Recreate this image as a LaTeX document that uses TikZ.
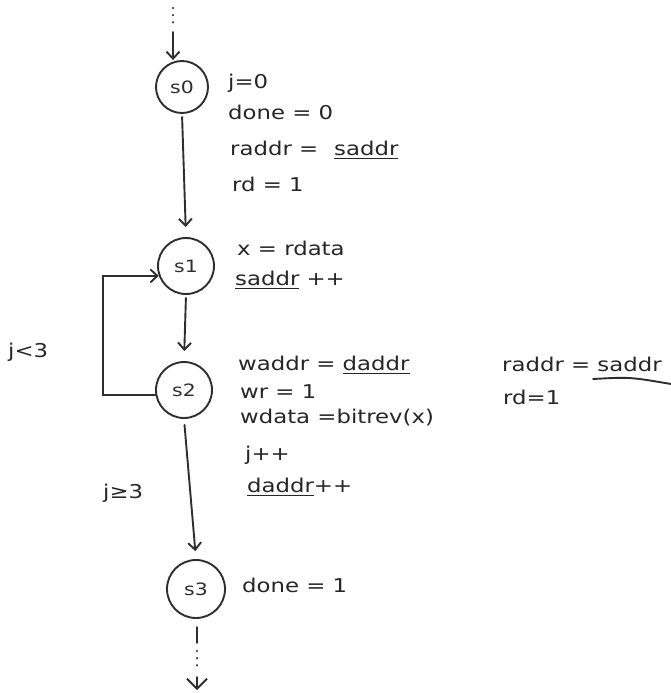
\documentclass[tikz,border=0pt]{standalone}
\usepackage{fontspec}
\setmainfont{DejaVu Sans}[FakeStretch=1.2]
\usetikzlibrary{arrows.meta}
\newcommand\myul[1]{\leavevmode\vtop{\hbox{#1}\kern2.5pt\hrule height 1.6pt}}
\begin{document}
\begin{tikzpicture}[x=1pt,y=-1pt,
  ink/.style={draw=black!82, line width=1.9pt, line cap=round},
  state/.style={circle, ink, inner sep=0pt, font=\fontsize{17}{19}\selectfont, text=black!82},
  txt/.style={anchor=west, inner sep=0pt, font=\fontsize{19}{22}\selectfont, text=black!85},
  arr/.style={ink, -{Straight Barb[length=7pt,width=13pt,line width=1.9pt]}},
  dots/.style={ink, line width=2.6pt, dash pattern=on 0.1pt off 7pt},
]
\useasboundingbox (0,0) rectangle (671,693);

% states
\node[state, minimum size=52pt] (s0) at (182,87) {s0};
\node[state, minimum size=56pt] (s1) at (186,266) {s1};
\node[state, minimum size=56pt] (s2) at (184,390) {s2};
\node[state, minimum size=58pt] (s3) at (196,589) {s3};

% entry
\coordinate (t0) at (173,8);
\coordinate (t1) at (173,26);
\coordinate (t2) at (173,32);
\draw[dots] (t0) -- (t1);
\draw[arr] (t2) -- (t2 |- s0.north);

% transitions
\draw[arr, shorten <=3pt, shorten >=10pt] (s0.south) -- (s1.north);
\draw[arr, shorten <=3pt, shorten >=10pt] (s1.south) -- (s2.north);
\draw[arr, shorten <=6pt, shorten >=8pt] (s2.south) -- (s3.north);
\coordinate (loopx) at (103,0);
\draw[arr] (s2.190) -| (loopx |- s1.200) -- (s1.200);

% exit
\coordinate (b1) at (197,627);
\coordinate (b2) at (197,643);
\coordinate (b3) at (197,651);
\coordinate (b4) at (197,672);
\coordinate (b5) at (197,677);
\coordinate (b6) at (197,690);
\draw[ink] (b1) -- (b2);
\draw[dots] (b3) -- (b4);
\draw[ink, -{Straight Barb[length=10pt,width=20pt,line width=1.9pt]}] (b5) -- (b6);

% edge labels
\node[txt] (lt) at (8,352) {j<3};
\node[txt] (ge) at (103,493) {j≥3};

% s0 actions
\node[txt] (a1) at (228,83) {j=0};
\node[txt] (a2) at (228,112) {done = 0};
\node[txt] (a3) at (230,150) {raddr =\hspace{16pt}\myul{saddr}};
\node[txt] (a4) at (232,184) {rd = 1};

% s1 actions
\node[txt] (b1t) at (237,248) {x = rdata};
\node[txt] (b2t) at (235,280) {\myul{saddr} ++};

% s2 actions
\node[txt] (c1) at (238,365) {waddr = \myul{daddr}};
\node[txt] (c2) at (240,392) {wr = 1};
\node[txt] (c3) at (240,418) {wdata =bitrev(x)};
\node[txt] (c4) at (245,455) {j++};
\node[txt] (c5) at (247,487) {\myul{daddr}++};

% s3 actions
\node[txt] (d1) at (242,585) {done = 1};

% side note
\node[txt] (e1) at (502,364) {raddr = saddr};
\node[txt] (e2) at (503,397) {rd=1};
\coordinate (u0) at (593,379);
\coordinate (u1) at (671,384);
\draw[ink] (u0) .. controls (630,377) .. (u1);
\end{tikzpicture}
\end{document}
